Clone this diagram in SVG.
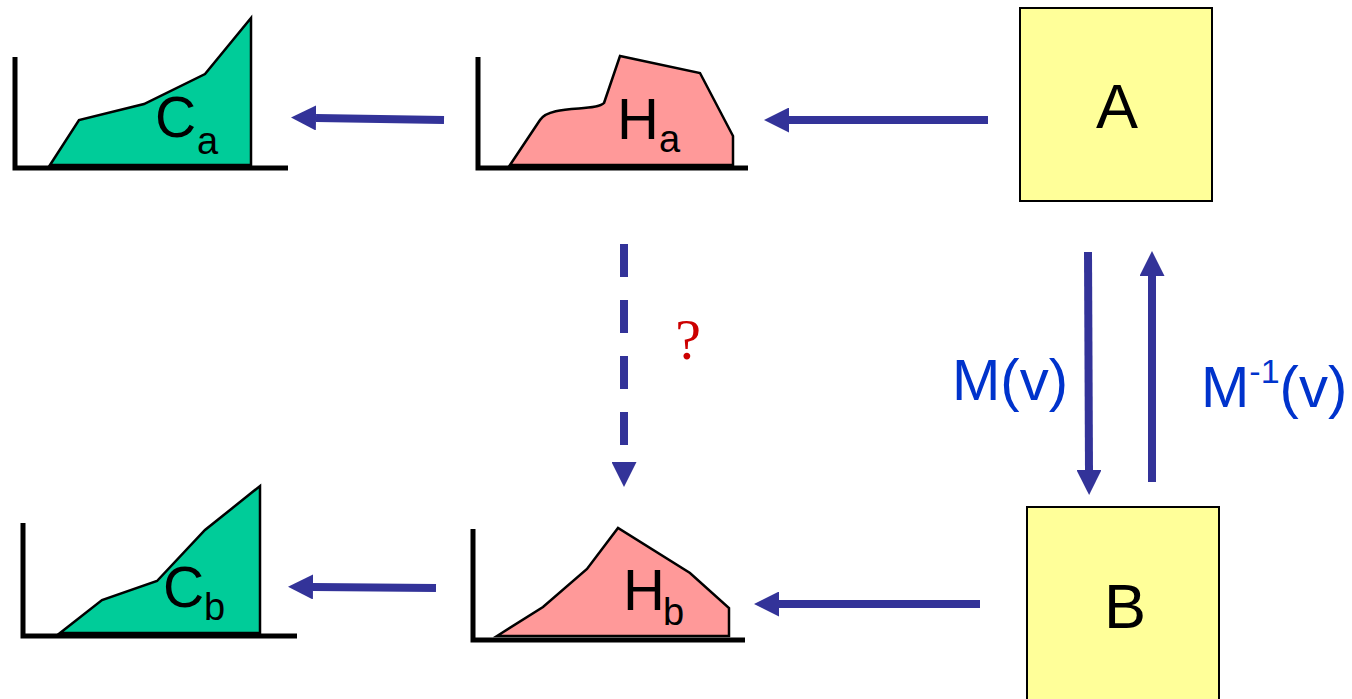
<svg xmlns="http://www.w3.org/2000/svg" width="1352" height="699" viewBox="0 0 1352 699">
<style>
.axis{fill:none;stroke:#000;stroke-width:5}
.cum{fill:#00cc99;stroke:#000;stroke-width:2.5;stroke-linejoin:miter}
.hist{fill:#ff9999;stroke:#000;stroke-width:2.5;stroke-linejoin:miter}
.lbl{font-family:"Liberation Sans",Arial,sans-serif;fill:#000}
.box{fill:#ffff99;stroke:#000;stroke-width:2}
.conn{stroke:#333399;stroke-width:8;fill:none}
.mlbl{font-family:"Liberation Sans",Arial,sans-serif;fill:#0033cc;font-size:58px}
</style>
<defs>
<marker id="ah" markerUnits="userSpaceOnUse" markerWidth="25" markerHeight="25" viewBox="0 0 24 24" refX="0" refY="12" orient="auto">
<path d="M0,0 L24,12 L0,24 z" fill="#333399"/>
</marker>
</defs>
<rect width="1352" height="699" fill="#fff"/>

<g id="Ca">
<polygon class="cum" points="50,165 79,120 144,104 205,74 251,18 251,165"/>
<polyline class="axis" points="15,57 15,168 288,168"/>
<text class="lbl" x="155" y="137" font-size="57">C</text>
<text class="lbl" x="197" y="154" font-size="38">a</text>
</g>

<g id="Ha">
<path class="hist" d="M510,165 L540,120 C550,104 596,112 604,103 L620,56 L700,73 L733,136 L733,165 Z"/>
<polyline class="axis" points="478,57 478,168 748,168"/>
<text class="lbl" x="617" y="139" font-size="58">H</text>
<text class="lbl" x="659" y="152" font-size="38">a</text>
</g>

<g id="Cb">
<polygon class="cum" points="60,633 102,600 157,581 205,530 260,486 260,633"/>
<polyline class="axis" points="23,523 23,636 297,636"/>
<text class="lbl" x="163" y="607" font-size="57">C</text>
<text class="lbl" x="204" y="620" font-size="38">b</text>
</g>

<g id="Hb">
<polygon class="hist" points="497,636 543,607 587,569 618,528 690,573 729,608 729,636"/>
<polyline class="axis" points="473,529 473,640 745,640"/>
<text class="lbl" x="623" y="610" font-size="58">H</text>
<text class="lbl" x="663" y="625" font-size="38">b</text>
</g>

<g id="A">
<rect class="box" x="1020" y="8" width="192" height="193"/>
<text class="lbl" x="1117" y="128" font-size="63" text-anchor="middle">A</text>
</g>

<g id="B">
<rect class="box" x="1027" y="507" width="192" height="200"/>
<text class="lbl" x="1125" y="628" font-size="63" text-anchor="middle">B</text>
</g>

<g id="connectors">
<line class="conn" x1="988" y1="120" x2="789" y2="120" marker-end="url(#ah)"/>
<line class="conn" x1="444" y1="120" x2="316" y2="118" marker-end="url(#ah)"/>
<line class="conn" x1="980" y1="604" x2="779" y2="604" marker-end="url(#ah)"/>
<line class="conn" x1="436" y1="588" x2="313" y2="587" marker-end="url(#ah)"/>
<line class="conn" x1="1088" y1="252" x2="1089" y2="470" marker-end="url(#ah)"/>
<line class="conn" x1="1152" y1="482" x2="1152" y2="276" marker-end="url(#ah)"/>
<line class="conn" x1="624" y1="244" x2="624" y2="462" stroke-dasharray="33 23" marker-end="url(#ah)"/>
<text x="688" y="359" font-family="Liberation Serif,'Times New Roman',serif" font-size="58" fill="#cc0000" text-anchor="middle">?</text>
<text class="mlbl" x="952" y="400">M(v)</text>
<text class="mlbl" x="1201" y="407">M<tspan font-size="34" dy="-24">-1</tspan><tspan dy="24">(v)</tspan></text>
</g>
</svg>
